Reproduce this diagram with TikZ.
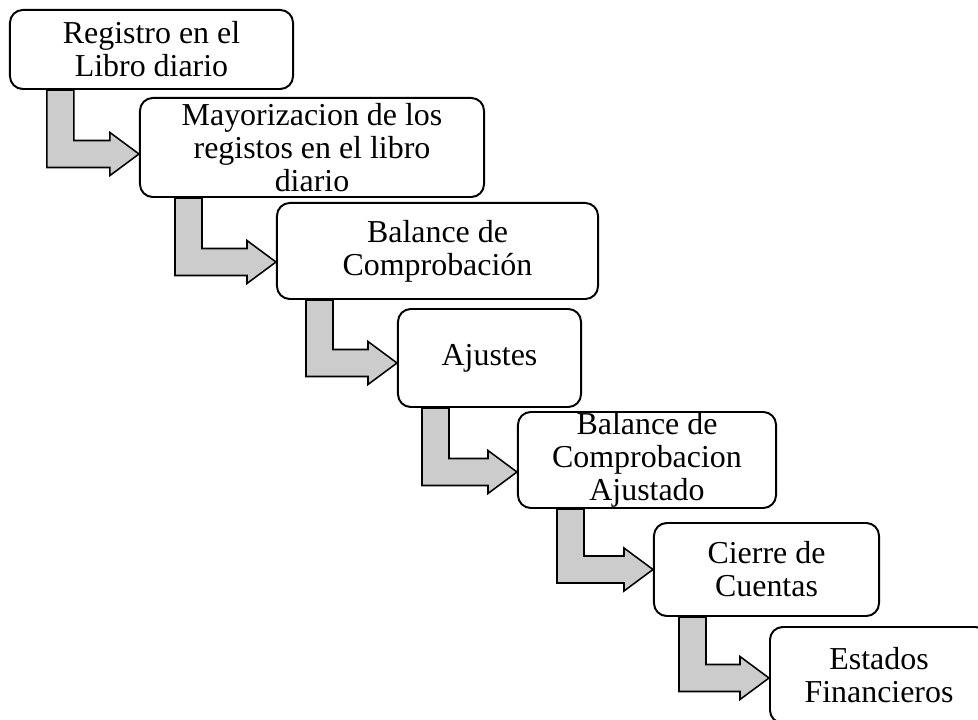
\documentclass[tikz,border=0pt]{standalone}
\usepackage{fontspec}
\setmainfont{Liberation Serif}
\usetikzlibrary{calc}

\tikzset{
  caja/.style={draw, line width=1.4pt, rounded corners=0.32cm, fill=white, align=center,
    inner sep=0pt, font=\fontsize{22.7}{23.5}\selectfont},
  flecha/.style={draw, line width=1.1pt, fill=black!20, line join=miter}
}
% #1 origen, #2 destino, #3 distancia del tallo a la punta, #4 desfase vertical de la punta
\newcommand{\flechaL}[4]{%
  \coordinate (punta) at ($(#2.west)+(0,#4)$);
  \coordinate (tallo) at ($(punta)+(-#3,0)$);
  \draw[flecha] (tallo |- #1.south) -- ++(27,0) -- ($(punta)+(-#3+27,-13.5)$)
    -- ($(punta)+(-29,-13.5)$) -- ($(punta)+(-29,-21.5)$) -- (punta)
    -- ($(punta)+(-29,21.5)$) -- ($(punta)+(-29,13.5)$) -- ($(punta)+(-#3,13.5)$) -- cycle;
}

\begin{document}
\begin{tikzpicture}[x=0.025cm, y=-0.025cm]
  \useasboundingbox (0,0) rectangle (978,720);
  \clip (0,0) rectangle (978,720);

  \node[caja, minimum width=7.075cm, minimum height=1.975cm] (registro) at (151.5,49.5) {Registro en el\\Libro diario};
  \node[caja, minimum width=8.6cm, minimum height=2.475cm] (mayor) at (312,147.5) {Mayorizacion de los\\registos en el libro\\diario};
  \node[caja, minimum width=8.025cm, minimum height=2.4cm] (balance) at (437.5,251) {Balance de\\Comprobación};
  \node[caja, minimum width=4.575cm, minimum height=2.45cm] (ajustes) at (489.5,358) {Ajustes};
  \node[caja, minimum width=6.45cm, minimum height=2.4cm] (ajustado) at (647,460) {Balance de\\Comprobacion\\Ajustado};
  \node[caja, minimum width=5.625cm, minimum height=2.325cm] (cierre) at (766.5,569.5) {Cierre de\\Cuentas};
  \node[caja, minimum width=5.45cm, minimum height=2.4cm] (estados) at (879,675) {Estados\\Financieros};

  \flechaL{registro}{mayor}{92}{6.5}
  \flechaL{mayor}{balance}{101}{11}
  \flechaL{balance}{ajustes}{91}{5}
  \flechaL{ajustes}{ajustado}{95}{12}
  \flechaL{ajustado}{cierre}{96}{0}
  \flechaL{cierre}{estados}{90}{3}
\end{tikzpicture}
\end{document}
